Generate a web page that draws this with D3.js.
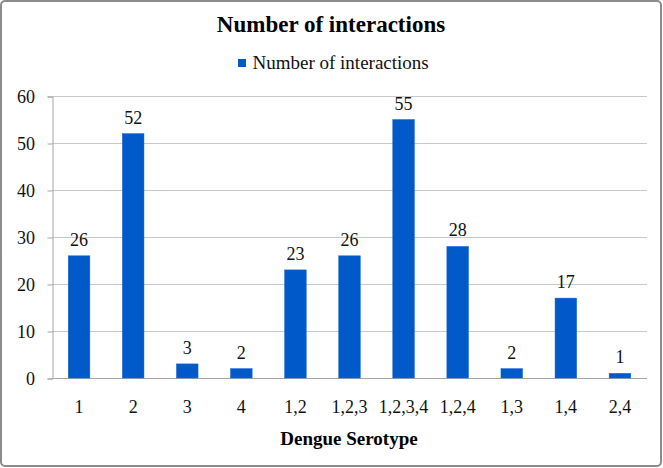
<!DOCTYPE html>
<html>
<head>
<meta charset="utf-8">
<script src="https://cdn.jsdelivr.net/npm/d3@7"></script>
<style>
  html, body { margin: 0; padding: 0; background: #fff; }
  svg { display: block; }
</style>
</head>
<body>
<svg id="chart" width="663" height="468"></svg>
<script>
const categories = ["1", "2", "3", "4", "1,2", "1,2,3", "1,2,3,4", "1,2,4", "1,3", "1,4", "2,4"];
const values = [26, 52, 3, 2, 23, 26, 55, 28, 2, 17, 1];
const yTicks = [0, 10, 20, 30, 40, 50, 60];
const chartTitle = "Number of interactions";
const seriesName = "Number of interactions";
const xTitle = "Dengue Serotype";

const FONT = "Liberation Serif";
const W = 663, H = 468;
const svg = d3.select("#chart");

// outer frame
svg.append("rect")
  .attr("x", 1).attr("y", 1).attr("width", W - 3).attr("height", H - 3)
  .attr("rx", 4).attr("ry", 4)
  .attr("fill", "#fff").attr("stroke", "#8c8c8c").attr("stroke-width", 2);

const x = d3.scaleBand().domain(categories).range([52, 647]).paddingInner(0.6).paddingOuter(0.3);
const y = d3.scaleLinear().domain([0, 60]).range([378, 96]);

// gridlines
svg.append("g").selectAll("line").data(yTicks.filter(d => d > 0)).join("line")
  .attr("x1", 52).attr("x2", 647)
  .attr("y1", d => Math.round(y(d)) + 0.5).attr("y2", d => Math.round(y(d)) + 0.5)
  .attr("stroke", "#c8c8c8").attr("stroke-width", 1);

// y axis
const yAxis = d3.axisLeft(y).tickValues(yTicks).tickSize(5).tickPadding(12.5);
const gy = svg.append("g").attr("transform", "translate(52.5,0.5)").call(yAxis);
gy.select(".domain").attr("stroke", "#a6a6a6");
gy.selectAll(".tick line").attr("stroke", "#a6a6a6");
gy.selectAll("text").style("font-size", "18px").style("font-family", FONT).attr("fill", "#111");

// x axis
const xAxis = d3.axisBottom(x).tickSize(0);
const gx = svg.append("g").attr("transform", `translate(0,${Math.round(y(0)) + 0.5})`).call(xAxis);
gx.select(".domain").attr("stroke", "#a6a6a6").attr("d", "M52,0H647");
gx.selectAll("text").attr("dy", null).attr("y", 413 - (Math.round(y(0)) + 0.5))
  .style("font-size", "18px").style("font-family", FONT).attr("fill", "#111");

// bars
svg.append("g").selectAll("rect").data(values).join("rect")
  .attr("x", (d, i) => x(categories[i]))
  .attr("y", d => y(d))
  .attr("width", x.bandwidth())
  .attr("height", d => y(0) - y(d))
  .attr("fill", "#0059c9")
  .attr("stroke", "#1a6ad4").attr("stroke-width", 0.5);

// value labels
svg.append("g").selectAll("text").data(values).join("text")
  .attr("x", (d, i) => x(categories[i]) + x.bandwidth() / 2)
  .attr("y", d => y(d) - 10)
  .attr("text-anchor", "middle")
  .style("font-size", "18px").style("font-family", FONT)
  .attr("fill", "#111")
  .text(d => d);

// title
svg.append("text").attr("x", 331).attr("y", 32).attr("text-anchor", "middle")
  .style("font-size", "23px").style("font-weight", "bold").style("font-family", FONT).text(chartTitle);

// legend
svg.append("rect").attr("x", 238).attr("y", 59).attr("width", 8).attr("height", 8).attr("fill", "#0059c9");
svg.append("text").attr("x", 252.5).attr("y", 69)
  .style("font-size", "19px").style("font-family", FONT).attr("fill", "#111").text(seriesName);

// x title
svg.append("text").attr("x", 349).attr("y", 445).attr("text-anchor", "middle")
  .style("font-size", "19px").style("font-weight", "bold").style("font-family", FONT).text(xTitle);
</script>
</body>
</html>
